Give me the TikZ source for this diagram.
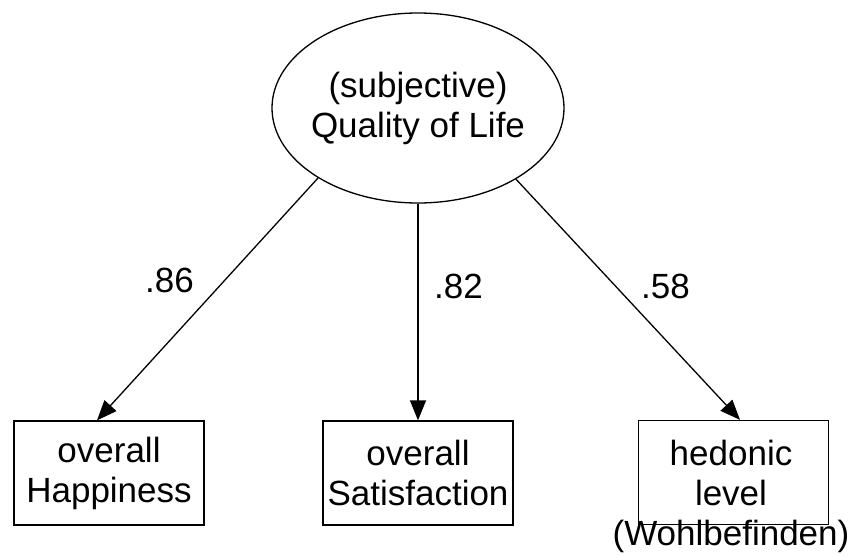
\documentclass[tikz,border=0pt]{standalone}
\usepackage{fontspec}
\setmainfont{Liberation Sans}
\usetikzlibrary{shapes.geometric,arrows.meta}
\begin{document}
\begin{tikzpicture}[x=1pt,y=-1pt,
  lbl/.style={font=\fontsize{35}{40}\selectfont, align=center, inner sep=0pt},
  latent/.style={draw, ellipse, line width=1.3pt, minimum width=292pt, minimum height=190pt, inner sep=0pt},
  indicator/.style={draw, rectangle, line width=1.3pt, minimum width=190pt, minimum height=104pt, inner sep=0pt, lbl},
  loading/.style={line width=1.3pt, -{Triangle[length=20pt,width=16pt]}},
  coef/.style={font=\fontsize{35}{40}\selectfont, inner sep=0pt, anchor=base}]
  \useasboundingbox (0,0) rectangle (855,555);

  % latent construct
  \node[latent] (qol) at (418,108) {};
  \node[lbl] (qoltext) at (qol.center) {(subjective)\\Quality of Life};

  % observed indicators
  \node[indicator] (hap) at (109,473) {overall\\Happiness};
  \node[indicator] (sat) at (418,473) {overall\\Satisfaction};
  \node[indicator] (hed) at (733.5,472.5) {};
  \node[lbl] (hedtext) at (731,496) {hedonic\\level\\(Wohlbefinden)};

  % factor loadings
  \draw[loading] (qol.215.9) -- ([xshift=-12pt]hap.north);
  \draw[loading] (qol.south) -- (sat.north);
  \draw[loading] (qol.324.4) -- ([xshift=6.5pt]hed.north);

  \node[coef] (l1) at (169.5,292) {.86};
  \node[coef] (l2) at (458.5,298) {.82};
  \node[coef] (l3) at (665.5,298) {.58};
\end{tikzpicture}
\end{document}
